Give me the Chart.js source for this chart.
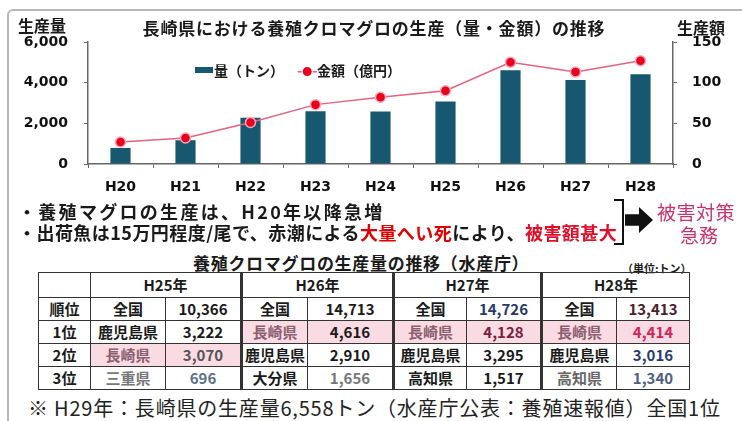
<!DOCTYPE html>
<html><head><meta charset="utf-8">
<script src="https://cdn.jsdelivr.net/npm/chart.js@4/dist/chart.umd.min.js"></script>
<style>
html,body{margin:0;padding:0;background:#fff;}
body{width:742px;height:421px;position:relative;overflow:hidden;font-family:"Noto Sans CJK JP",sans-serif;color:#1a1a1a;}
.abs{position:absolute;white-space:nowrap;}
#frame{left:7px;top:9px;width:760px;height:430px;border:2px solid #b8b8b8;border-radius:6px;}
#cv{position:absolute;left:0;top:0;}
.b{font-weight:bold;}
table{border-collapse:collapse;table-layout:fixed;position:absolute;left:38px;top:272px;}
td{border:1.5px solid #333;padding:0;text-align:center;font-weight:bold;font-size:15px;height:22px;line-height:22px;}
tr.hd td{height:24px;line-height:24px;}
td.g{border-left:3px solid #333;}
td.pk{background:#fadbe3;}
</style></head><body>
<div id="frame" class="abs"></div>
<canvas id="cv" width="742" height="200"></canvas>
<div class="abs b" style="left:18px;top:13px;font-size:16px;line-height:24px;">生産量</div>
<div class="abs b" style="left:677px;top:15px;font-size:16px;line-height:24px;">生産額</div>
<div class="abs b" style="left:124px;width:500px;top:15px;font-size:17px;line-height:26px;text-align:center;letter-spacing:0.8px;">長崎県における養殖クロマグロの生産（量・金額）の推移</div>
<div class="abs" style="left:195px;top:67px;width:18px;height:6px;background:#175870;"></div>
<div class="abs b" style="left:214px;top:59px;font-size:14px;line-height:22px;">量（トン）</div>
<div class="abs b" style="left:297px;top:59px;font-size:14px;line-height:22px;"><span style="color:#e5627f">-</span><span style="color:#e8001c;font-size:10px">●</span><span style="color:#e5627f">-</span></div>
<div class="abs b" style="left:317px;top:59px;font-size:14px;line-height:22px;">金額（億円）</div>

<div class="abs b" style="left:18px;top:199px;font-size:18px;line-height:24px;letter-spacing:2.3px;">・養殖マグロの生産は、H20年以降急増</div>
<div class="abs b" style="left:18px;top:220px;font-size:18px;line-height:24px;letter-spacing:0.45px;">・出荷魚は15万円程度/尾で、赤潮による<span style="color:#e00000">大量へい死</span>により、<span style="color:#e0102a">被害額甚大</span></div>
<div class="abs" style="left:614px;top:199px;width:8px;height:42px;border:2.5px solid #111;border-left:none;"></div>
<div class="abs" style="left:625px;top:207px;width:28px;height:26px;background:#111;clip-path:polygon(0 28%,50% 28%,50% 0,100% 50%,50% 100%,50% 72%,0 72%);"></div>
<div class="abs" style="left:657px;top:200px;font-size:19px;line-height:24px;color:#c8326e;letter-spacing:0.5px;">被害対策</div>
<div class="abs" style="left:680px;top:223px;font-size:19px;line-height:24px;color:#c8326e;">急務</div>

<div class="abs b" style="left:193px;top:251px;font-size:17px;line-height:24px;letter-spacing:0.7px;">養殖クロマグロの生産量の推移（水産庁）</div>
<div class="abs b" style="left:622px;top:261px;font-size:11px;line-height:14px;">（単位:トン）</div>

<table>
<colgroup><col style="width:52px"><col style="width:75px"><col style="width:76px"><col style="width:66px"><col style="width:86px"><col style="width:73px"><col style="width:75px"><col style="width:75px"><col style="width:73px"></colgroup>
<tr class="hd"><td></td><td colspan="2">H25年</td><td colspan="2" class="g">H26年</td><td colspan="2" class="g">H27年</td><td colspan="2" class="g">H28年</td></tr>
<tr><td>順位</td><td>全国</td><td>10,366</td><td class="g">全国</td><td>14,713</td><td class="g">全国</td><td style="color:#2a3a66">14,726</td><td class="g">全国</td><td style="color:#4a2030">13,413</td></tr>
<tr><td>1位</td><td>鹿児島県</td><td>3,222</td><td class="g pk" style="color:#8a6070">長崎県</td><td class="pk">4,616</td><td class="g pk" style="color:#8a6070">長崎県</td><td class="pk" style="color:#7a2040">4,128</td><td class="g pk" style="color:#8a6070">長崎県</td><td class="pk" style="color:#d0245a">4,414</td></tr>
<tr><td>2位</td><td class="pk" style="color:#8a6070">長崎県</td><td class="pk" style="color:#555">3,070</td><td class="g">鹿児島県</td><td>2,910</td><td class="g">鹿児島県</td><td>3,295</td><td class="g">鹿児島県</td><td style="color:#2a3a70">3,016</td></tr>
<tr><td>3位</td><td style="color:#777">三重県</td><td style="color:#607090">696</td><td class="g">大分県</td><td style="color:#777">1,656</td><td class="g">高知県</td><td>1,517</td><td class="g" style="color:#666">高知県</td><td style="color:#506080">1,340</td></tr>
</table>
<div class="abs" style="left:28px;top:395px;font-size:20px;line-height:26px;letter-spacing:0.8px;color:#222;">※ H29年：長崎県の生産量6,558トン（水産庁公表：養殖速報値）全国1位</div>

<script>
const categories = ['H20','H21','H22','H23','H24','H25','H26','H27','H28'];
const volumeTons = [790, 1170, 2280, 2600, 2580, 3070, 4616, 4128, 4414];
const amountOku = [27, 32, 51, 73, 82, 90, 125, 113, 127];
const leftTicks = [0, 2000, 4000, 6000];
const rightTicks = [0, 50, 100, 150];

const tickFont = {family:'DejaVu Sans', weight:'bold', size:14};
new Chart(document.getElementById('cv'), {
  data: {
    labels: categories,
    datasets: [
      {type:'line', label:'金額(億円)', data: amountOku, yAxisID:'y1', order:0,
       borderColor:'#e5627f', borderWidth:1.5, pointRadius:5, pointBackgroundColor:'#e8001c',
       pointBorderColor:'#f7a8b8', pointBorderWidth:1.5, tension:0},
      {type:'bar', label:'量(トン)', data: volumeTons, yAxisID:'y', order:1,
       backgroundColor:'#175870', barPercentage:0.31, categoryPercentage:1}
    ]
  },
  options: {
    responsive:false, animation:false, devicePixelRatio:1,
    layout:{padding:{top:42,left:0,right:0,bottom:0}},
    plugins:{legend:{display:false}, tooltip:{enabled:false}},
    scales:{
      x:{type:'category', offset:true,
         grid:{display:true, drawOnChartArea:false, drawTicks:true, tickLength:4, color:'#666', offset:true},
         border:{display:true, color:'#666', width:1.5},
         ticks:{font:tickFont, color:'#111', padding:11},
         afterFit(s){s.height=36;}},
      y:{position:'left', min:0, max:6000,
         afterBuildTicks(s){s.ticks = leftTicks.map(v=>({value:v}));},
         grid:{display:true, drawOnChartArea:false, drawTicks:true, tickLength:4, color:'#666'},
         border:{display:true, color:'#666', width:1.5},
         ticks:{font:tickFont, color:'#111', padding:16, callback:v=>v.toLocaleString('en-US')},
         afterFit(s){s.width=88;}},
      y1:{position:'right', min:0, max:150,
         afterBuildTicks(s){s.ticks = rightTicks.map(v=>({value:v}));},
         grid:{display:true, drawOnChartArea:false, drawTicks:true, tickLength:4, color:'#666'},
         border:{display:true, color:'#666', width:1.5},
         ticks:{font:tickFont, color:'#111', padding:15},
         afterFit(s){s.width=69;}}
    }
  }
});
</script>
</body></html>
